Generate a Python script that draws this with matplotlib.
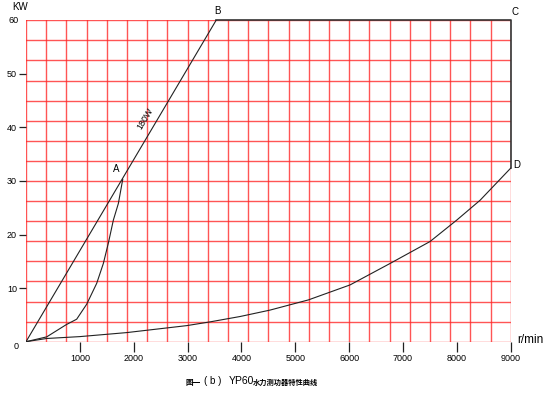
import numpy as np
import matplotlib
matplotlib.use('Agg')
import matplotlib.pyplot as plt

plt.rcParams['font.family'] = ['Liberation Sans', 'DejaVu Sans']

# 180W 直线 (O -> A -> B)
line_rpm = [0, 3530]
line_kw = [0, 60]

# O -> A 曲线
curveA_rpm = [0, 384, 750, 941, 1127, 1313, 1436, 1529, 1622, 1715, 1796]
curveA_kw = [0, 0.9, 3.2, 4.2, 7.0, 10.9, 14.6, 18.4, 22.7, 25.8, 30.3]

# O -> D 曲线
curveD_rpm = [0, 384, 1000, 1870, 2984, 3417, 3974, 4531, 5243, 6017, 6759, 7502, 7998, 8431, 9000]
curveD_kw = [0, 0.6, 0.95, 1.7, 3.0, 3.7, 4.7, 5.9, 7.8, 10.6, 14.6, 18.7, 22.7, 26.4, 32.4]

x_ticks = [1000, 2000, 3000, 4000, 5000, 6000, 7000, 8000, 9000]
y_ticks = [10, 20, 30, 40, 50]

fig = plt.figure(figsize=(5.52, 3.97), dpi=100)
ax = fig.add_axes([26 / 552, 1 - 341.7 / 397, (510.7 - 26) / 552, (341.7 - 20.3) / 397])
ax.set_xlim(0, 9000)
ax.set_ylim(0, 60)
for s in ax.spines.values():
    s.set_visible(False)

# 红色网格
for gx in np.arange(0, 9000 + 1, 375):
    ax.axvline(gx, color='#ff2a2a', lw=1.0, alpha=0.8, zorder=1)
for gy in np.arange(0, 60 + 0.1, 3.75):
    ax.axhline(gy, color='#ff2a2a', lw=1.0, alpha=0.8, zorder=1)

# 黑色边框 B->C->D
ax.plot([3530, 9000, 9000], [60, 60, 32.4], color='#333333', lw=1.2, zorder=3, clip_on=False)

ax.plot(line_rpm, line_kw, color='#222222', lw=0.8, zorder=4)
ax.plot(curveA_rpm, curveA_kw, color='#222222', lw=0.8, zorder=4)
ax.plot(curveD_rpm, curveD_kw, color='#222222', lw=0.8, zorder=4)

ax.set_xticks(x_ticks)
ax.set_xticklabels([str(v) for v in x_ticks])
ax.set_yticks(y_ticks)
ax.set_yticklabels([str(v) for v in y_ticks])
ax.tick_params(axis='x', length=7, width=0.9, color='#222222', pad=2, labelsize=6.5)
ax.tick_params(axis='y', length=5, width=0.9, color='#222222', pad=1.5, labelsize=6.5)

ax.text(-130, 60, '60', ha='right', va='center', fontsize=6.5)
ax.text(-130, -0.9, '0', ha='right', va='center', fontsize=6.5)
ax.text(-111, 62.5, 'KW', ha='center', va='center', fontsize=7)
ax.text(9130, 0.4, 'r/min', ha='left', va='center', fontsize=8.5)

ax.text(1680, 32.3, 'A', ha='center', va='center', fontsize=7)
ax.text(3550, 61.8, 'B', ha='center', va='center', fontsize=7)
ax.text(9080, 61.5, 'C', ha='center', va='center', fontsize=7)
ax.text(9120, 33, 'D', ha='center', va='center', fontsize=7)
ax.text(2210, 41.7, '180W', ha='center', va='center', fontsize=6.5, rotation=59.4)

cjk = ['Noto Sans CJK SC', 'DejaVu Sans']
fig.text(185 / 552, 1 - 382 / 397, '图一', ha='left', va='center', fontsize=5.5, family=cjk,
         weight='bold')
fig.text(213 / 552, 1 - 381 / 397, '( b )', ha='center', va='center', fontsize=7)
fig.text(229 / 552, 1 - 381 / 397, 'YP60', ha='left', va='center', fontsize=7.5)
fig.text(253 / 552, 1 - 382 / 397, '水力测功器特性曲线', ha='left', va='center', fontsize=5.2,
         family=cjk, weight='bold')

fig.savefig('out.png', dpi=100, facecolor='white')
